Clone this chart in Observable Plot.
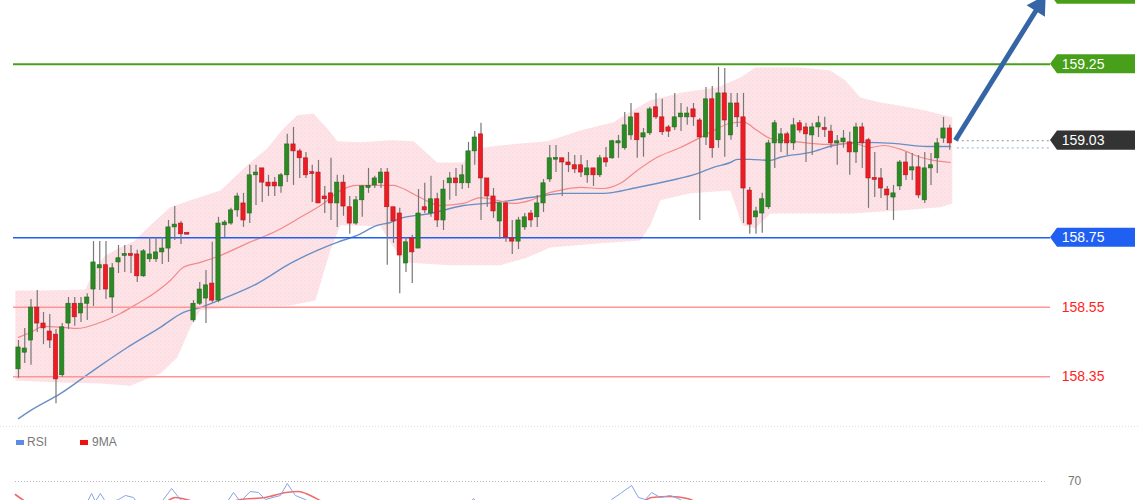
<!DOCTYPE html>
<html><head><meta charset="utf-8">
<script src="https://cdn.jsdelivr.net/npm/d3@7"></script>
<script src="https://cdn.jsdelivr.net/npm/@observablehq/plot@0.6"></script>
<style>
html,body{margin:0;padding:0;background:#fff;}
#wrap{position:relative;width:1140px;height:500px;overflow:hidden;background:#fff;font-family:"Liberation Sans",Arial,sans-serif;}
#main{position:absolute;left:0;top:0;}
#rsi{position:absolute;left:0;top:425px;}
#legend{position:absolute;left:16px;top:435px;font-size:12px;color:#777;height:14px;}
#legend span{position:absolute;top:0;white-space:nowrap;}
.sw{display:inline-block;width:8px;height:5px;position:absolute;top:5px;}
svg{overflow:hidden;}
</style></head>
<body>
<svg width="0" height="0" style="position:absolute">
  <defs>
    <pattern id="bbdots" width="4" height="4" patternUnits="userSpaceOnUse">
      <rect width="4" height="4" fill="#fde4e8"></rect>
      <rect x="0" y="0" width="1" height="1" fill="#f7c9d0"></rect>
      <rect x="2" y="2" width="1" height="1" fill="#f9d3d9"></rect>
    </pattern>
  </defs>
</svg>
<div id="wrap">
  <div id="main"></div>
  <div id="rsi"></div>
  <div id="legend">
    <i class="sw" style="left:0;background:#5b8ce6"></i><span style="left:11px">RSI</span>
    <i class="sw" style="left:64px;background:#f01010"></i><span style="left:76px">9MA</span>
  </div>
</div>
<script>
// ---------- candle data (150 bars) ----------
const open = [
158.371,158.419,158.454,158.549,158.503,158.480,158.471,158.354,158.503,158.560,
158.532,158.560,158.601,158.662,158.671,158.578,158.679,158.699,158.702,158.702,
158.639,158.688,158.688,158.708,158.719,158.780,158.791,158.763,158.512,158.560,
158.575,158.618,158.569,158.786,158.791,158.829,158.849,158.820,158.930,158.950,
158.909,158.909,158.898,158.930,159.019,158.999,158.979,158.938,158.938,158.869,
158.878,158.849,158.909,158.838,158.791,158.858,158.895,158.901,158.907,158.938,
158.838,158.820,158.676,158.748,158.719,158.838,158.820,158.861,158.800,158.907,
158.921,158.907,158.907,158.999,159.048,158.921,158.869,158.797,158.849,158.748,
158.739,158.780,158.820,158.809,158.849,158.918,158.976,158.979,158.967,158.959,
158.959,158.930,158.950,158.930,158.979,158.979,159.022,159.008,159.045,159.108,
159.039,159.051,159.126,159.097,159.068,159.068,159.097,159.097,159.120,159.088,
159.039,159.149,159.031,159.166,159.045,159.137,159.097,158.886,158.809,158.820,
158.838,159.022,159.022,159.048,159.022,159.080,159.068,159.045,159.068,159.065,
159.056,159.022,159.025,159.025,158.996,159.068,159.031,158.921,158.921,158.889,
158.866,158.898,158.967,158.944,158.953,158.858,158.950,158.979,159.036,159.065];
const close = [
158.434,158.431,158.549,158.503,158.489,158.454,158.342,158.492,158.560,158.521,
158.560,158.578,158.679,158.671,158.601,158.662,158.691,158.702,158.699,158.639,
158.711,158.702,158.708,158.719,158.780,158.788,158.760,158.760,158.560,158.601,
158.613,158.569,158.791,158.794,158.829,158.869,158.800,158.930,158.938,158.909,
158.898,158.898,158.930,159.019,158.999,158.979,158.930,158.935,158.849,158.861,
158.849,158.909,158.840,158.791,158.858,158.898,158.898,158.921,158.938,158.838,
158.797,158.699,158.737,158.708,158.820,158.829,158.861,158.800,158.889,158.921,
158.907,158.930,158.999,159.039,158.921,158.869,158.826,158.849,158.751,158.739,
158.800,158.809,158.800,158.849,158.907,158.979,158.979,158.967,158.959,158.947,
158.938,158.950,158.930,158.979,158.967,159.028,159.028,159.074,159.097,159.031,
159.051,159.120,159.097,159.054,159.056,159.097,159.108,159.108,159.097,159.039,
159.149,159.008,159.166,159.088,159.137,159.097,158.892,158.788,158.826,158.861,
159.022,159.080,159.048,159.022,159.074,159.059,159.048,159.068,159.080,159.062,
159.022,159.028,159.036,158.996,159.068,159.022,158.921,158.918,158.892,158.872,
158.878,158.967,158.930,158.953,158.872,158.950,158.959,159.022,159.065,159.022];
const high = [
158.454,158.489,158.572,158.598,158.535,158.529,158.486,158.503,158.578,158.578,
158.578,158.589,158.739,158.739,158.739,158.676,158.728,158.728,158.728,158.714,
158.716,158.751,158.751,158.751,158.800,158.840,158.797,158.763,158.569,158.621,
158.656,158.737,158.809,158.800,158.835,158.878,158.878,158.959,158.959,158.950,
158.930,158.924,158.935,159.048,159.068,159.005,158.996,158.959,158.973,158.898,
158.979,158.930,158.930,158.869,158.869,158.901,158.950,158.927,158.950,158.950,
158.838,158.835,158.751,158.757,158.889,158.907,158.927,158.878,158.915,158.938,
158.950,158.959,159.025,159.056,159.080,158.921,158.892,158.852,158.852,158.800,
158.809,158.820,158.829,158.872,158.918,159.016,159.016,158.979,158.996,158.987,
158.987,158.973,158.950,158.987,159.010,159.031,159.045,159.111,159.137,159.108,
159.065,159.126,159.166,159.149,159.074,159.166,159.137,159.126,159.137,159.094,
159.183,159.186,159.241,159.238,159.166,159.166,159.166,158.895,158.838,158.878,
159.031,159.088,159.065,159.054,159.094,159.088,159.080,159.080,159.100,159.097,
159.074,159.045,159.059,159.054,159.080,159.080,159.036,158.996,158.950,158.898,
158.901,158.973,158.996,158.993,158.987,158.996,158.993,159.036,159.097,159.074];
const low = [
158.345,158.388,158.383,158.477,158.442,158.431,158.272,158.348,158.486,158.495,
158.506,158.512,158.552,158.598,158.572,158.532,158.647,158.650,158.647,158.621,
158.636,158.679,158.679,158.673,158.679,158.742,158.731,158.760,158.506,158.555,
158.503,158.563,158.563,158.751,158.786,158.809,158.780,158.791,158.843,158.852,
158.869,158.869,158.878,158.909,158.901,158.921,158.921,158.852,158.849,158.820,
158.800,158.780,158.812,158.760,158.786,158.809,158.878,158.892,158.892,158.671,
158.734,158.589,158.650,158.618,158.719,158.820,158.809,158.780,158.771,158.858,
158.869,158.889,158.892,158.959,158.800,158.838,158.806,158.745,158.737,158.702,
158.716,158.771,158.780,158.780,158.823,158.909,158.938,158.869,158.938,158.935,
158.924,158.907,158.898,158.924,158.953,158.976,158.979,159.002,159.031,158.979,
158.982,159.045,159.091,159.045,159.039,159.059,159.056,159.074,159.071,158.800,
159.016,158.979,159.008,158.982,159.031,159.068,158.791,158.760,158.760,158.763,
158.832,158.950,158.996,158.987,159.002,159.051,158.967,158.987,159.039,159.039,
159.008,158.959,159.008,158.930,158.964,158.950,158.835,158.866,158.863,158.829,
158.800,158.886,158.915,158.915,158.863,158.849,158.901,158.935,159.022,159.002];

// ---------- indicators (bar index, price) ----------
const bbUpperIdx = [0.5,5,11.7,13.3,14.9,17.3,19.4,22.1,25.3,28.5,33.3,37.6,40.8,43.4,45.6,48.2,50.4,52.0,55.7,60.5,64.2,65.8,68.0,72.2,73.3,76.5,81.3,85.6,90.9,96.2,98.4,102.1,107.4,112.8,116.5,118.9,126.1,130.9,133.3,135.7,138.9,142.6,146.1,150.4];
const bbUpperVal = [158.598,158.598,158.601,158.662,158.699,158.722,158.739,158.786,158.838,158.858,158.886,158.959,159.008,159.065,159.103,159.108,159.065,159.028,159.025,159.031,159.028,159.002,158.967,158.967,159.002,159.013,159.022,159.028,159.059,159.083,159.108,159.146,159.169,159.183,159.212,159.241,159.241,159.232,159.203,159.154,159.140,159.129,159.117,159.097];
const bbLowerIdx = [0.5,7.7,14.1,18.9,23.7,26.4,28.5,30.1,36.5,44.5,48.5,50.9,52.5,58.9,60.8,62.9,70.1,78.1,82.1,86.1,94.1,100.5,102.1,103.7,108.5,114.9,116.8,118.9,121.3,134.1,142.1,148.5,150.4];
const bbLowerVal = [158.339,158.333,158.330,158.324,158.359,158.405,158.492,158.541,158.552,158.555,158.569,158.714,158.786,158.783,158.728,158.679,158.671,158.671,158.691,158.722,158.734,158.742,158.786,158.858,158.878,158.886,158.786,158.777,158.820,158.820,158.829,158.838,158.849];
const maFastIdx = [1.0,2.9,5.0,8.2,10.4,13.6,17.3,20.0,22.6,25.3,27.4,30.1,33.3,37.6,42.4,46.1,49.8,52.5,55.2,58.4,61.0,62.1,65.3,68.5,72.2,74.9,77.6,80.2,82.9,85.6,88.2,90.9,94.6,97.3,100.0,103.2,106.9,110.1,112.2,114.9,117.0,119.2,121.3,125.0,130.4,134.6,137.3,139.4,142.6,145.3,147.4,150.1];
const maFastVal = [158.463,158.477,158.495,158.492,158.489,158.503,158.532,158.560,158.589,158.627,158.665,158.679,158.699,158.734,158.771,158.809,158.849,158.886,158.901,158.901,158.901,158.895,158.866,158.843,158.849,158.866,158.858,158.849,158.858,158.878,158.889,158.895,158.892,158.907,158.944,158.982,159.010,159.039,159.059,159.080,159.083,159.059,159.036,159.028,159.019,159.022,159.010,159.016,159.002,158.982,158.973,158.967];
const maSlowIdx = [1.0,2.9,7.7,13.0,18.4,23.7,27.4,30.1,33.8,39.2,44.5,48.8,52.0,55.2,58.4,60.5,62.1,66.9,72.2,77.6,82.9,88.2,94.6,100.0,105.3,109.6,112.2,114.9,116.0,118.1,121.3,122.9,127.7,131.4,135.7,141.0,146.4,150.1];
const maSlowVal = [158.229,158.252,158.301,158.368,158.434,158.492,158.535,158.549,158.575,158.618,158.676,158.714,158.737,158.757,158.786,158.794,158.806,158.820,158.843,158.852,158.866,158.878,158.878,158.895,158.915,158.935,158.953,158.967,158.976,158.976,158.973,158.982,158.996,159.016,159.025,159.022,159.013,159.013];

// ---------- levels ----------
const topLevel = 159.45;          // tag cut by the top edge (no readable text)
const resistanceLevel = 159.25;
const supportLevel = 158.75;
const redLevels = [158.55, 158.35];
const lastPrice = 159.03;
const arrowFrom = {i: 150.9, p: 159.031};
const arrowTo = {i: 165.3, p: 159.448};

// ---------- RSI panel (bar index, value) ----------
const rsiIdx = [0.5,11.7,12.7,13.3,14.1,15.1,17,18.1,19.4,20.5,23.7,25.5,26.9,28.5,30,34,35.4,36.5,38.1,39.4,40.5,42.9,44,45.3,46.9,49.3,62,72.5,73.8,75,94,95.9,97.3,99.1,100.2,101.3,102.3,103.7,105.3,106.9,108.5,110.9,113,150];
const rsiVal = [55,58,64,60,64,59,61,63,62,57,59,66.5,61,58,55,58,64.5,60,65,64.5,61,63,69,63,61,56,45,56,61.5,57,55,61,64,68,62,61,64.5,62,63,61,58,60.5,50,52];
const rsiMaIdx = [0.5,2.1,5,20,23.7,26.1,28.5,33,36.5,40.5,43.8,45.8,47.7,49.6,55,95,100.5,102.3,105.3,108,110,115,150];
const rsiMaVal = [63.5,60,56,56,58,62,60.5,58,61,62,64.5,65,63,60,56,55,59,62,62.5,61.5,59,55,53];
const rsiLevel = 70;

// ---------- layout/styling ----------
const FONT = "Liberation Sans, Arial, sans-serif";
const X_DOMAIN = [-1.88, 180.52];
const PX_X = 1140 / (X_DOMAIN[1] - X_DOMAIN[0]);
const Y_DOMAIN = [158.2092, 159.4337];
const PX_Y = 425 / (Y_DOMAIN[1] - Y_DOMAIN[0]);
const lineStart = 0.2, lineEnd = 166.12;
const tagNotch = 167.24, tagEnd = 179.72, tagHalf = 0.0274, tagText = 167.9;
const GREEN = "#48a01a", BLUE = "#1f5ff2", DARK = "#333333", REDLINE = "#ff9595", REDTXT = "#ff1f1f";

const candles = open.map((o, k) => {
  let a = Math.min(o, close[k]), b = Math.max(o, close[k]);
  const minB = 0.005;
  if (b - a < minB) { const m = (a + b) / 2; a = m - minB / 2; b = m + minB / 2; }
  return {i: k + 1, o, c: close[k], h: high[k], l: low[k], b1: a, b2: b, up: close[k] >= o};
});
const zipPts = (xs, ys) => xs.map((x, k) => ({i: x, p: ys[k]}));
const bandPoly = zipPts(bbUpperIdx, bbUpperVal).concat(zipPts(bbLowerIdx, bbLowerVal).reverse());
const maFast = zipPts(maFastIdx, maFastVal);
const maSlow = zipPts(maSlowIdx, maSlowVal);
const tagShape = v => [{x: lineEnd, y1: v, y2: v}, {x: tagNotch, y1: v - tagHalf, y2: v + tagHalf}, {x: tagEnd, y1: v - tagHalf, y2: v + tagHalf}];

// arrow head geometry (screen-space direction)
const adx = (arrowTo.i - arrowFrom.i) * PX_X, ady = (arrowTo.p - arrowFrom.p) * PX_Y;
const alen = Math.hypot(adx, ady);
const angle = Math.atan2(adx, ady) * 180 / Math.PI;
const back = 12;
const headC = {i: arrowTo.i - adx / alen * back / PX_X, p: arrowTo.p - ady / alen * back / PX_Y};

const tagMarks = [Plot.areaY(tagShape(topLevel), {x: "x", y1: "y1", y2: "y2", fill: GREEN, curve: "linear"})];
[[resistanceLevel, GREEN], [lastPrice, DARK], [supportLevel, BLUE]].forEach(([v, col]) => {
  tagMarks.push(Plot.areaY(tagShape(v), {x: "x", y1: "y1", y2: "y2", fill: col, curve: "linear"}));
  tagMarks.push(Plot.text([v], {x: () => tagText, y: d => d, text: d => d.toFixed(2), fill: "#fff", textAnchor: "start", fontSize: 14, fontFamily: FONT}));
});

const main = Plot.plot({
  width: 1140, height: 425, margin: 0,
  x: {domain: X_DOMAIN, axis: null},
  y: {domain: Y_DOMAIN, axis: null},
  marks: [
    Plot.line(bandPoly, {x: "i", y: "p", fill: "url(#bbdots)", stroke: "none", curve: "linear"}),
    Plot.line(maSlow, {x: "i", y: "p", stroke: "#6a8fc4", strokeWidth: 1.4, curve: "monotone-x"}),
    Plot.line(maFast, {x: "i", y: "p", stroke: "#f28a8a", strokeWidth: 1.2, curve: "monotone-x"}),
    Plot.ruleY([resistanceLevel], {x1: lineStart, x2: lineEnd, stroke: GREEN, strokeWidth: 2}),
    Plot.ruleY([supportLevel], {x1: lineStart, x2: lineEnd, stroke: BLUE, strokeWidth: 1.5}),
    Plot.ruleY(redLevels, {x1: lineStart, x2: lineEnd, stroke: REDLINE, strokeWidth: 1.5}),
    Plot.text(redLevels, {x: () => tagText, y: d => d, text: d => d.toFixed(2), fill: REDTXT, textAnchor: "start", fontSize: 14, fontFamily: FONT}),
    Plot.ruleY([lastPrice], {x1: 151.2, x2: lineEnd, stroke: "#a9a9a9", strokeDasharray: "2,3", strokeWidth: 1.2}),
    Plot.ruleY([maSlowVal[maSlowVal.length - 1] - 0.004], {x1: 151.2, x2: lineEnd, stroke: "#a8bde0", strokeDasharray: "2,3", strokeWidth: 1.2}),
    Plot.ruleX(candles, {x: "i", y1: "l", y2: "h", stroke: "#777", strokeWidth: 1.2}),
    Plot.rect(candles, {x1: d => d.i - 0.34, x2: d => d.i + 0.34, y1: "b1", y2: "b2",
      fill: d => d.up ? "#2b8a24" : "#ec1c24", stroke: d => d.up ? "#1f6a1a" : "#b41418", strokeWidth: 0.6}),
    ...tagMarks,
    Plot.link([{a: arrowFrom, b: headC}], {x1: d => d.a.i, y1: d => d.a.p, x2: d => d.b.i, y2: d => d.b.p, stroke: "#3565a5", strokeWidth: 5}),
    Plot.dot([headC], {x: "i", y: "p", symbol: "triangle", r: 8, fill: "#3565a5", stroke: "none", rotate: angle})
  ]
});
document.getElementById("main").appendChild(main);

const rsi = zipPts(rsiIdx, rsiVal);
const rsiMa = zipPts(rsiMaIdx, rsiMaVal);
const rsiPlot = Plot.plot({
  width: 1140, height: 75, margin: 0,
  x: {domain: X_DOMAIN, axis: null},
  y: {domain: [60.5, 98], axis: null},
  marks: [
    Plot.ruleY([97.6], {x1: -1.88, x2: 180.52, stroke: "#d3e6cf", strokeDasharray: "1,2"}),
    Plot.ruleY([rsiLevel], {x1: 0.52, x2: 165.3, stroke: "#b5b5b5", strokeDasharray: "1,2"}),
    Plot.text([rsiLevel], {x: () => 168.9, y: d => d, text: d => String(d), fill: "#777", fontSize: 12, textAnchor: "start", fontFamily: FONT}),
    Plot.line(rsiMa, {x: "i", y: "p", stroke: "#f06a6a", strokeWidth: 1.6, curve: "monotone-x", clip: true}),
    Plot.line(rsi, {x: "i", y: "p", stroke: "#86a4e6", strokeWidth: 1, curve: "linear", clip: true})
  ]
});
document.getElementById("rsi").appendChild(rsiPlot);
</script>
</body></html>
